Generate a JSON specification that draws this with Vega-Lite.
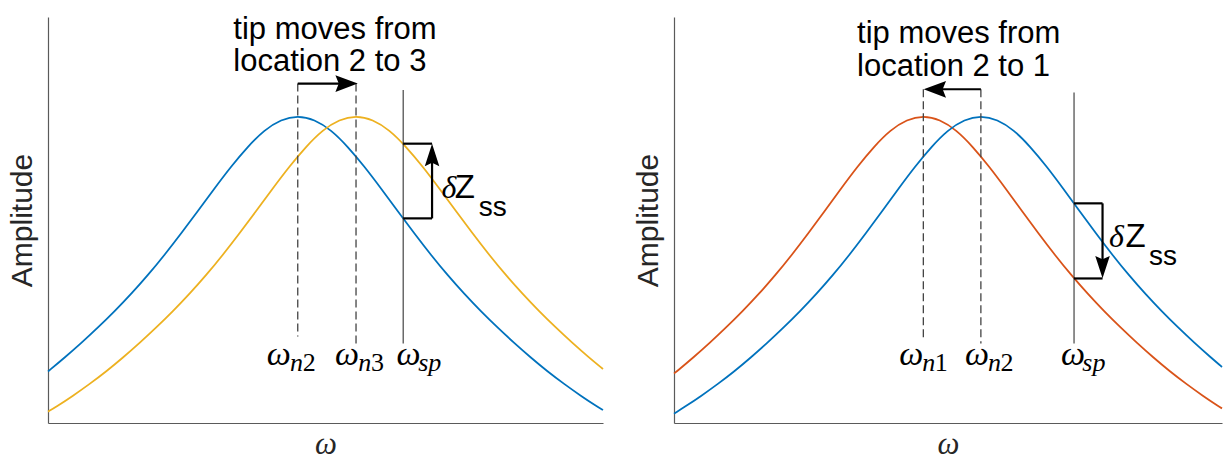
{
  "$schema": "https://vega.github.io/schema/vega-lite/v6.json",
  "padding": {"left": 7, "top": 13, "right": 0, "bottom": 0},
  "spacing": 26,
  "background": "white",
  "config": {
    "view": {"stroke": null},
    "axis": {
      "grid": false,
      "ticks": false,
      "labels": false,
      "domainColor": "#5a5a5a",
      "domainWidth": 1.2,
      "titleColor": "#262626",
      "titleFontWeight": "normal"
    },
    "axisX": {"titleFont": "Liberation Serif", "titleFontStyle": "italic", "titleFontSize": 31, "titlePadding": 6},
    "axisY": {"titleFont": "Liberation Sans", "titleFontSize": 30, "titlePadding": 11}
  },
  "datasets": {
    "left_curves": [
      {"series": "location 2", "w": 0, "a": 0.127}, {"series": "location 2", "w": 3, "a": 0.161},
      {"series": "location 2", "w": 6, "a": 0.197}, {"series": "location 2", "w": 9, "a": 0.235},
      {"series": "location 2", "w": 12, "a": 0.275}, {"series": "location 2", "w": 15, "a": 0.318},
      {"series": "location 2", "w": 18, "a": 0.364}, {"series": "location 2", "w": 21, "a": 0.414},
      {"series": "location 2", "w": 24, "a": 0.467}, {"series": "location 2", "w": 27, "a": 0.522},
      {"series": "location 2", "w": 30, "a": 0.578}, {"series": "location 2", "w": 33, "a": 0.632},
      {"series": "location 2", "w": 36, "a": 0.681}, {"series": "location 2", "w": 39, "a": 0.722},
      {"series": "location 2", "w": 42, "a": 0.748}, {"series": "location 2", "w": 45, "a": 0.757},
      {"series": "location 2", "w": 48, "a": 0.748}, {"series": "location 2", "w": 51, "a": 0.722},
      {"series": "location 2", "w": 54, "a": 0.681}, {"series": "location 2", "w": 57, "a": 0.632},
      {"series": "location 2", "w": 60, "a": 0.578}, {"series": "location 2", "w": 63, "a": 0.522},
      {"series": "location 2", "w": 66, "a": 0.467}, {"series": "location 2", "w": 69, "a": 0.414},
      {"series": "location 2", "w": 72, "a": 0.364}, {"series": "location 2", "w": 75, "a": 0.318},
      {"series": "location 2", "w": 78, "a": 0.275}, {"series": "location 2", "w": 81, "a": 0.235},
      {"series": "location 2", "w": 84, "a": 0.197}, {"series": "location 2", "w": 87, "a": 0.161},
      {"series": "location 2", "w": 90, "a": 0.127}, {"series": "location 2", "w": 93, "a": 0.096},
      {"series": "location 2", "w": 96, "a": 0.067}, {"series": "location 2", "w": 99, "a": 0.040},
      {"series": "location 2", "w": 100, "a": 0.032},
      {"series": "location 3", "w": 0, "a": 0.028}, {"series": "location 3", "w": 1.5, "a": 0.040},
      {"series": "location 3", "w": 4.5, "a": 0.067}, {"series": "location 3", "w": 7.5, "a": 0.096},
      {"series": "location 3", "w": 10.5, "a": 0.127}, {"series": "location 3", "w": 13.5, "a": 0.161},
      {"series": "location 3", "w": 16.5, "a": 0.197}, {"series": "location 3", "w": 19.5, "a": 0.235},
      {"series": "location 3", "w": 22.5, "a": 0.275}, {"series": "location 3", "w": 25.5, "a": 0.318},
      {"series": "location 3", "w": 28.5, "a": 0.364}, {"series": "location 3", "w": 31.5, "a": 0.414},
      {"series": "location 3", "w": 34.5, "a": 0.467}, {"series": "location 3", "w": 37.5, "a": 0.522},
      {"series": "location 3", "w": 40.5, "a": 0.578}, {"series": "location 3", "w": 43.5, "a": 0.632},
      {"series": "location 3", "w": 46.5, "a": 0.681}, {"series": "location 3", "w": 49.5, "a": 0.722},
      {"series": "location 3", "w": 52.5, "a": 0.748}, {"series": "location 3", "w": 55.5, "a": 0.757},
      {"series": "location 3", "w": 58.5, "a": 0.748}, {"series": "location 3", "w": 61.5, "a": 0.722},
      {"series": "location 3", "w": 64.5, "a": 0.681}, {"series": "location 3", "w": 67.5, "a": 0.632},
      {"series": "location 3", "w": 70.5, "a": 0.578}, {"series": "location 3", "w": 73.5, "a": 0.522},
      {"series": "location 3", "w": 76.5, "a": 0.467}, {"series": "location 3", "w": 79.5, "a": 0.414},
      {"series": "location 3", "w": 82.5, "a": 0.364}, {"series": "location 3", "w": 85.5, "a": 0.318},
      {"series": "location 3", "w": 88.5, "a": 0.275}, {"series": "location 3", "w": 91.5, "a": 0.235},
      {"series": "location 3", "w": 94.5, "a": 0.197}, {"series": "location 3", "w": 97.5, "a": 0.161},
      {"series": "location 3", "w": 100, "a": 0.133}
    ],
    "right_curves": [
      {"series": "location 1", "w": 0, "a": 0.122}, {"series": "location 1", "w": 0.5, "a": 0.127},
      {"series": "location 1", "w": 3.5, "a": 0.161}, {"series": "location 1", "w": 6.5, "a": 0.197},
      {"series": "location 1", "w": 9.5, "a": 0.235}, {"series": "location 1", "w": 12.5, "a": 0.275},
      {"series": "location 1", "w": 15.5, "a": 0.318}, {"series": "location 1", "w": 18.5, "a": 0.364},
      {"series": "location 1", "w": 21.5, "a": 0.414}, {"series": "location 1", "w": 24.5, "a": 0.467},
      {"series": "location 1", "w": 27.5, "a": 0.522}, {"series": "location 1", "w": 30.5, "a": 0.578},
      {"series": "location 1", "w": 33.5, "a": 0.632}, {"series": "location 1", "w": 36.5, "a": 0.681},
      {"series": "location 1", "w": 39.5, "a": 0.722}, {"series": "location 1", "w": 42.5, "a": 0.748},
      {"series": "location 1", "w": 45.5, "a": 0.757}, {"series": "location 1", "w": 48.5, "a": 0.748},
      {"series": "location 1", "w": 51.5, "a": 0.722}, {"series": "location 1", "w": 54.5, "a": 0.681},
      {"series": "location 1", "w": 57.5, "a": 0.632}, {"series": "location 1", "w": 60.5, "a": 0.578},
      {"series": "location 1", "w": 63.5, "a": 0.522}, {"series": "location 1", "w": 66.5, "a": 0.467},
      {"series": "location 1", "w": 69.5, "a": 0.414}, {"series": "location 1", "w": 72.5, "a": 0.364},
      {"series": "location 1", "w": 75.5, "a": 0.318}, {"series": "location 1", "w": 78.5, "a": 0.275},
      {"series": "location 1", "w": 81.5, "a": 0.235}, {"series": "location 1", "w": 84.5, "a": 0.197},
      {"series": "location 1", "w": 87.5, "a": 0.161}, {"series": "location 1", "w": 90.5, "a": 0.127},
      {"series": "location 1", "w": 93.5, "a": 0.096}, {"series": "location 1", "w": 96.5, "a": 0.067},
      {"series": "location 1", "w": 99.5, "a": 0.040}, {"series": "location 1", "w": 100, "a": 0.036},
      {"series": "location 2", "w": 0, "a": 0.023}, {"series": "location 2", "w": 2, "a": 0.040},
      {"series": "location 2", "w": 5, "a": 0.067}, {"series": "location 2", "w": 8, "a": 0.096},
      {"series": "location 2", "w": 11, "a": 0.127}, {"series": "location 2", "w": 14, "a": 0.161},
      {"series": "location 2", "w": 17, "a": 0.197}, {"series": "location 2", "w": 20, "a": 0.235},
      {"series": "location 2", "w": 23, "a": 0.275}, {"series": "location 2", "w": 26, "a": 0.318},
      {"series": "location 2", "w": 29, "a": 0.364}, {"series": "location 2", "w": 32, "a": 0.414},
      {"series": "location 2", "w": 35, "a": 0.467}, {"series": "location 2", "w": 38, "a": 0.522},
      {"series": "location 2", "w": 41, "a": 0.578}, {"series": "location 2", "w": 44, "a": 0.632},
      {"series": "location 2", "w": 47, "a": 0.681}, {"series": "location 2", "w": 50, "a": 0.722},
      {"series": "location 2", "w": 53, "a": 0.748}, {"series": "location 2", "w": 56, "a": 0.757},
      {"series": "location 2", "w": 59, "a": 0.748}, {"series": "location 2", "w": 62, "a": 0.722},
      {"series": "location 2", "w": 65, "a": 0.681}, {"series": "location 2", "w": 68, "a": 0.632},
      {"series": "location 2", "w": 71, "a": 0.578}, {"series": "location 2", "w": 74, "a": 0.522},
      {"series": "location 2", "w": 77, "a": 0.467}, {"series": "location 2", "w": 80, "a": 0.414},
      {"series": "location 2", "w": 83, "a": 0.364}, {"series": "location 2", "w": 86, "a": 0.318},
      {"series": "location 2", "w": 89, "a": 0.275}, {"series": "location 2", "w": 92, "a": 0.235},
      {"series": "location 2", "w": 95, "a": 0.197}, {"series": "location 2", "w": 98, "a": 0.161},
      {"series": "location 2", "w": 100, "a": 0.138}
    ],
    "left_rules": [
      {"role": "guide", "w": 45, "w2": 45, "a": 0.836, "a2": 0.213},
      {"role": "guide", "w": 55.5, "w2": 55.5, "a": 0.836, "a2": 0.196},
      {"role": "setpoint", "w": 64, "w2": 64, "a": 0.820, "a2": 0.196},
      {"role": "stroke", "w": 45, "w2": 53.8, "a": 0.836, "a2": 0.836},
      {"role": "stroke", "w": 64, "w2": 69.2, "a": 0.688, "a2": 0.688},
      {"role": "stroke", "w": 64, "w2": 69.2, "a": 0.504, "a2": 0.504},
      {"role": "stroke", "w": 69.2, "w2": 69.2, "a": 0.504, "a2": 0.660}
    ],
    "right_rules": [
      {"role": "guide", "w": 45.5, "w2": 45.5, "a": 0.822, "a2": 0.208},
      {"role": "guide", "w": 56, "w2": 56, "a": 0.822, "a2": 0.196},
      {"role": "setpoint", "w": 73, "w2": 73, "a": 0.814, "a2": 0.196},
      {"role": "stroke", "w": 56, "w2": 47.6, "a": 0.822, "a2": 0.822},
      {"role": "stroke", "w": 73, "w2": 78.2, "a": 0.541, "a2": 0.541},
      {"role": "stroke", "w": 73, "w2": 78.2, "a": 0.356, "a2": 0.356},
      {"role": "stroke", "w": 78.2, "w2": 78.2, "a": 0.541, "a2": 0.384}
    ],
    "left_heads": [
      {"dir": "right", "w": 53.8, "a": 0.836},
      {"dir": "up", "w": 69.2, "a": 0.660}
    ],
    "right_heads": [
      {"dir": "left", "w": 47.6, "a": 0.822},
      {"dir": "down", "w": 78.2, "a": 0.384}
    ],
    "left_text": [
      {"role": "note", "w": 33.4, "a": 0.947, "text": "tip moves from"},
      {"role": "note", "w": 33.4, "a": 0.868, "text": "location 2 to 3"},
      {"role": "sym", "w": 39.4, "a": 0.143, "text": "ω"},
      {"role": "subi", "w": 43.6, "a": 0.127, "text": "n"},
      {"role": "subr", "w": 45.9, "a": 0.127, "text": "2"},
      {"role": "sym", "w": 51.7, "a": 0.143, "text": "ω"},
      {"role": "subi", "w": 55.9, "a": 0.127, "text": "n"},
      {"role": "subr", "w": 58.2, "a": 0.127, "text": "3"},
      {"role": "sym", "w": 62.8, "a": 0.143, "text": "ω"},
      {"role": "subi", "w": 66.7, "a": 0.127, "text": "sp"},
      {"role": "delta", "w": 70.9, "a": 0.553, "text": "δ"},
      {"role": "zed", "w": 73.3, "a": 0.553, "text": "Z"},
      {"role": "ss", "w": 77.6, "a": 0.509, "text": "ss"}
    ],
    "right_text": [
      {"role": "note", "w": 33.4, "a": 0.935, "text": "tip moves from"},
      {"role": "note", "w": 33.4, "a": 0.854, "text": "location 2 to 1"},
      {"role": "sym", "w": 41.1, "a": 0.143, "text": "ω"},
      {"role": "subi", "w": 45.3, "a": 0.127, "text": "n"},
      {"role": "subr", "w": 47.6, "a": 0.127, "text": "1"},
      {"role": "sym", "w": 53.1, "a": 0.143, "text": "ω"},
      {"role": "subi", "w": 57.3, "a": 0.127, "text": "n"},
      {"role": "subr", "w": 59.6, "a": 0.127, "text": "2"},
      {"role": "sym", "w": 70.6, "a": 0.143, "text": "ω"},
      {"role": "subi", "w": 74.5, "a": 0.127, "text": "sp"},
      {"role": "delta", "w": 79.4, "a": 0.434, "text": "δ"},
      {"role": "zed", "w": 82.4, "a": 0.434, "text": "Z"},
      {"role": "ss", "w": 86.7, "a": 0.389, "text": "ss"}
    ]
  },
  "hconcat": [
    {
      "width": 555,
      "height": 406,
      "encoding": {
        "x": {"field": "w", "type": "quantitative", "scale": {"domain": [0, 100], "nice": false, "zero": false}, "axis": {"title": "ω"}},
        "y": {"field": "a", "type": "quantitative", "scale": {"domain": [0, 1], "nice": false}, "axis": {"title": "Amplitude"}}
      },
      "layer": [
        {
          "data": {"name": "left_curves"},
          "mark": {"type": "line", "interpolate": "basis", "strokeWidth": 1.8},
          "encoding": {
            "color": {"field": "series", "type": "nominal", "scale": {"domain": ["location 1", "location 2", "location 3"], "range": ["#D95319", "#0072BD", "#EDB120"]}, "legend": null}
          }
        },
        {
          "data": {"name": "left_rules"},
          "transform": [{"filter": "datum.role === 'guide'"}],
          "mark": {"type": "rule", "color": "#444444", "strokeWidth": 1.3, "strokeDash": [8, 4]},
          "encoding": {"x2": {"field": "w2"}, "y2": {"field": "a2"}}
        },
        {
          "data": {"name": "left_rules"},
          "transform": [{"filter": "datum.role === 'setpoint'"}],
          "mark": {"type": "rule", "color": "#444444", "strokeWidth": 1.2},
          "encoding": {"x2": {"field": "w2"}, "y2": {"field": "a2"}}
        },
        {
          "data": {"name": "left_rules"},
          "transform": [{"filter": "datum.role === 'stroke'"}],
          "mark": {"type": "rule", "color": "#000000", "strokeWidth": 2.2},
          "encoding": {"x2": {"field": "w2"}, "y2": {"field": "a2"}}
        },
        {
          "data": {"name": "left_heads"},
          "mark": {"type": "point", "filled": true, "color": "#000000", "opacity": 1, "size": 500, "strokeWidth": 0},
          "encoding": {
            "shape": {"field": "dir", "type": "nominal", "legend": null, "scale": {"domain": ["up", "down", "left", "right"], "range": ["M0,-1L0.65,1L0,0.7L-0.65,1Z", "M0,1L0.65,-1L0,-0.7L-0.65,-1Z", "M-1,0L1,-0.75L0.7,0L1,0.75Z", "M1,0L-1,-0.75L-0.7,0L-1,0.75Z"]}}
          }
        },
        {
          "data": {"name": "left_text"},
          "transform": [{"filter": "datum.role === 'note'"}],
          "mark": {"type": "text", "align": "left", "baseline": "alphabetic", "font": "Liberation Sans", "fontSize": 31, "color": "#000000"},
          "encoding": {"text": {"field": "text"}}
        },
        {
          "data": {"name": "left_text"},
          "transform": [{"filter": "datum.role === 'sym'"}],
          "mark": {"type": "text", "align": "left", "baseline": "alphabetic", "font": "Liberation Serif", "fontStyle": "italic", "fontSize": 34, "color": "#000000"},
          "encoding": {"text": {"field": "text"}}
        },
        {
          "data": {"name": "left_text"},
          "transform": [{"filter": "datum.role === 'subi'"}],
          "mark": {"type": "text", "align": "left", "baseline": "alphabetic", "font": "Liberation Serif", "fontStyle": "italic", "fontSize": 26, "color": "#000000"},
          "encoding": {"text": {"field": "text"}}
        },
        {
          "data": {"name": "left_text"},
          "transform": [{"filter": "datum.role === 'subr'"}],
          "mark": {"type": "text", "align": "left", "baseline": "alphabetic", "font": "Liberation Serif", "fontSize": 26, "color": "#000000"},
          "encoding": {"text": {"field": "text"}}
        },
        {
          "data": {"name": "left_text"},
          "transform": [{"filter": "datum.role === 'delta'"}],
          "mark": {"type": "text", "align": "left", "baseline": "alphabetic", "font": "Liberation Serif", "fontStyle": "italic", "fontSize": 32, "color": "#000000"},
          "encoding": {"text": {"field": "text"}}
        },
        {
          "data": {"name": "left_text"},
          "transform": [{"filter": "datum.role === 'zed'"}],
          "mark": {"type": "text", "align": "left", "baseline": "alphabetic", "font": "Liberation Sans", "fontSize": 33, "color": "#000000"},
          "encoding": {"text": {"field": "text"}}
        },
        {
          "data": {"name": "left_text"},
          "transform": [{"filter": "datum.role === 'ss'"}],
          "mark": {"type": "text", "align": "left", "baseline": "alphabetic", "font": "Liberation Sans", "fontSize": 28, "color": "#000000"},
          "encoding": {"text": {"field": "text"}}
        }
      ]
    },
    {
      "width": 548,
      "height": 406,
      "encoding": {
        "x": {"field": "w", "type": "quantitative", "scale": {"domain": [0, 100], "nice": false, "zero": false}, "axis": {"title": "ω"}},
        "y": {"field": "a", "type": "quantitative", "scale": {"domain": [0, 1], "nice": false}, "axis": {"title": "Amplitude"}}
      },
      "layer": [
        {
          "data": {"name": "right_curves"},
          "mark": {"type": "line", "interpolate": "basis", "strokeWidth": 1.8},
          "encoding": {
            "color": {"field": "series", "type": "nominal", "scale": {"domain": ["location 1", "location 2", "location 3"], "range": ["#D95319", "#0072BD", "#EDB120"]}, "legend": null}
          }
        },
        {
          "data": {"name": "right_rules"},
          "transform": [{"filter": "datum.role === 'guide'"}],
          "mark": {"type": "rule", "color": "#444444", "strokeWidth": 1.3, "strokeDash": [8, 4]},
          "encoding": {"x2": {"field": "w2"}, "y2": {"field": "a2"}}
        },
        {
          "data": {"name": "right_rules"},
          "transform": [{"filter": "datum.role === 'setpoint'"}],
          "mark": {"type": "rule", "color": "#444444", "strokeWidth": 1.2},
          "encoding": {"x2": {"field": "w2"}, "y2": {"field": "a2"}}
        },
        {
          "data": {"name": "right_rules"},
          "transform": [{"filter": "datum.role === 'stroke'"}],
          "mark": {"type": "rule", "color": "#000000", "strokeWidth": 2.2},
          "encoding": {"x2": {"field": "w2"}, "y2": {"field": "a2"}}
        },
        {
          "data": {"name": "right_heads"},
          "mark": {"type": "point", "filled": true, "color": "#000000", "opacity": 1, "size": 500, "strokeWidth": 0},
          "encoding": {
            "shape": {"field": "dir", "type": "nominal", "legend": null, "scale": {"domain": ["up", "down", "left", "right"], "range": ["M0,-1L0.65,1L0,0.7L-0.65,1Z", "M0,1L0.65,-1L0,-0.7L-0.65,-1Z", "M-1,0L1,-0.75L0.7,0L1,0.75Z", "M1,0L-1,-0.75L-0.7,0L-1,0.75Z"]}}
          }
        },
        {
          "data": {"name": "right_text"},
          "transform": [{"filter": "datum.role === 'note'"}],
          "mark": {"type": "text", "align": "left", "baseline": "alphabetic", "font": "Liberation Sans", "fontSize": 31, "color": "#000000"},
          "encoding": {"text": {"field": "text"}}
        },
        {
          "data": {"name": "right_text"},
          "transform": [{"filter": "datum.role === 'sym'"}],
          "mark": {"type": "text", "align": "left", "baseline": "alphabetic", "font": "Liberation Serif", "fontStyle": "italic", "fontSize": 34, "color": "#000000"},
          "encoding": {"text": {"field": "text"}}
        },
        {
          "data": {"name": "right_text"},
          "transform": [{"filter": "datum.role === 'subi'"}],
          "mark": {"type": "text", "align": "left", "baseline": "alphabetic", "font": "Liberation Serif", "fontStyle": "italic", "fontSize": 26, "color": "#000000"},
          "encoding": {"text": {"field": "text"}}
        },
        {
          "data": {"name": "right_text"},
          "transform": [{"filter": "datum.role === 'subr'"}],
          "mark": {"type": "text", "align": "left", "baseline": "alphabetic", "font": "Liberation Serif", "fontSize": 26, "color": "#000000"},
          "encoding": {"text": {"field": "text"}}
        },
        {
          "data": {"name": "right_text"},
          "transform": [{"filter": "datum.role === 'delta'"}],
          "mark": {"type": "text", "align": "left", "baseline": "alphabetic", "font": "Liberation Serif", "fontStyle": "italic", "fontSize": 32, "color": "#000000"},
          "encoding": {"text": {"field": "text"}}
        },
        {
          "data": {"name": "right_text"},
          "transform": [{"filter": "datum.role === 'zed'"}],
          "mark": {"type": "text", "align": "left", "baseline": "alphabetic", "font": "Liberation Sans", "fontSize": 33, "color": "#000000"},
          "encoding": {"text": {"field": "text"}}
        },
        {
          "data": {"name": "right_text"},
          "transform": [{"filter": "datum.role === 'ss'"}],
          "mark": {"type": "text", "align": "left", "baseline": "alphabetic", "font": "Liberation Sans", "fontSize": 28, "color": "#000000"},
          "encoding": {"text": {"field": "text"}}
        }
      ]
    }
  ]
}
